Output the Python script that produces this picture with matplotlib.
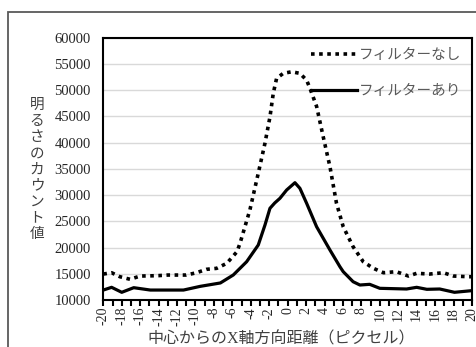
import matplotlib
matplotlib.use("Agg")
import matplotlib.pyplot as plt
from matplotlib.ticker import MultipleLocator
from matplotlib.patches import Rectangle

# --- data ---
x_nashi = [-20, -19.1, -18.2, -17.1, -16, -15, -14, -13, -12, -11, -9.9, -8.8, -7.7, -6.6,
           -5.5, -5.17, -4.1, -3.19, -2.46, -1.92, -1.56, -1.2, -0.48, 0.43, 1.33, 2.06,
           2.42, 3.14, 3.86, 4.59, 5.3, 6.03, 7.1, 8.2, 9.3, 10.4, 11.8, 13.1, 14, 15.4,
           16.9, 18, 19.6, 20]
y_nashi = [14950, 15200, 14440, 13950, 14570, 14600, 14650, 14760, 14760, 14760, 15200,
           15850, 16040, 17000, 19200, 20800, 27150, 34150, 39900, 44900, 49400, 52250,
           53200, 53500, 53200, 51900, 50350, 46900, 41100, 35400, 28430, 23970, 20160,
           17300, 16040, 15200, 15400, 14570, 15090, 14950, 15200, 14570, 14440, 14440]

x_ari = [-20, -19.1, -18, -16.7, -14.9, -11.3, -9.5, -7.3, -5.9, -4.45, -3.19, -2.46,
         -1.92, -1.4, -0.84, -0.11, 0.79, 1.33, 2.06, 3.14, 4.59, 5.67, 6.03, 7.1, 7.84,
         8.9, 10, 12.9, 14, 15.1, 16.5, 18.1, 19.9, 20]
y_ari = [11900, 12420, 11470, 12350, 11900, 11900, 12600, 13250, 14770, 17300, 20480,
         24300, 27480, 28500, 29380, 30970, 32360, 31290, 28430, 23970, 19530, 16350,
         15400, 13490, 12860, 12990, 12230, 12100, 12420, 12040, 12100, 11470, 11770, 11800]

label_nashi = "フィルターなし"
label_ari = "フィルターあり"
xlabel = "中心からのX軸方向距離（ピクセル）"
ylabel = "明るさのカウント値"

serif = ["Liberation Serif", "Noto Sans CJK JP"]
jp = ["Liberation Serif", "Noto Sans CJK JP"]

fig = plt.figure(figsize=(4.77, 3.47), dpi=100)
ax = fig.add_axes([0.2166, 0.1354, 0.9895 - 0.2166, 0.8914 - 0.1354])

# outer frame (cropped chart border)
fig.patches.append(Rectangle((8 / 477, -0.1), 1.2, (347 - 11.7) / 347 + 0.1,
                             transform=fig.transFigure, fill=False,
                             edgecolor="#595959", linewidth=1.3))

ax.plot(x_nashi, y_nashi, color="black", linewidth=2.6,
        linestyle=(0, (1, 1.25)), dash_capstyle="butt", label=label_nashi)
ax.plot(x_ari, y_ari, color="black", linewidth=2.3, label=label_ari,
        solid_joinstyle="round")

ax.set_xlim(-20, 20)
ax.set_ylim(10000, 60000)
ax.yaxis.set_major_locator(MultipleLocator(5000))
ax.xaxis.set_minor_locator(MultipleLocator(1))
ax.grid(axis="y", color="#d9d9d9", linewidth=1.0)
ax.set_axisbelow(True)

for s in ax.spines.values():
    s.set_linewidth(1.5)
    s.set_color("black")

ax.tick_params(axis="y", length=0, pad=9, labelsize=10.5, labelcolor="#262626")
ax.tick_params(axis="x", which="major", direction="out", length=4, width=1.5,
               pad=1, labelcolor="#262626")
ax.tick_params(axis="x", which="minor", direction="out", length=4, width=1.5)
for lab in ax.get_yticklabels():
    lab.set_fontfamily(serif)

ax.set_xticks(range(-20, 21, 2))
ax.set_xticklabels([str(v) for v in range(-20, 21, 2)], fontfamily=serif,
                   rotation=90, fontsize=10)

fig.text(281 / 477, 1 - 339 / 347, xlabel, ha="center", va="center",
         fontsize=11.5, family=jp, color="#404040")
fig.text(37 / 477, 1 - 170 / 347, "\n".join(ylabel), ha="center", va="center",
         fontsize=10.5, family=jp, color="#404040", linespacing=1.32)

leg = ax.legend(loc="upper right", frameon=False,
                prop={"family": jp, "size": 10.5}, handlelength=3.2,
                handletextpad=0.1, labelspacing=1.6, borderaxespad=0.55,
                borderpad=0.2)
for t in leg.get_texts():
    t.set_color("#595959")

fig.savefig("out.png", dpi=100)
